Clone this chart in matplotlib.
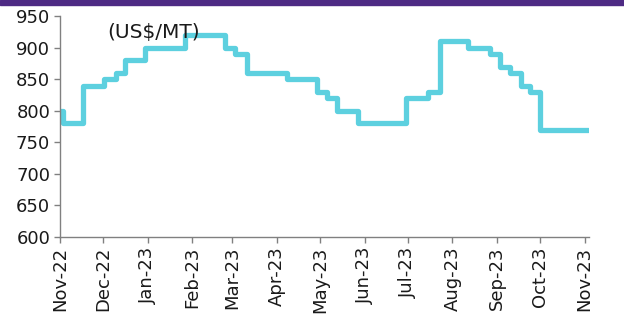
import matplotlib
matplotlib.use("Agg")
import matplotlib.pyplot as plt
import matplotlib.dates as mdates
from matplotlib.patches import Rectangle
import pandas as pd

# Price change dates and the price in effect from each date (US$/MT)
change_dates = [
    "2022-11-01", "2022-11-03", "2022-11-17", "2022-12-02", "2022-12-10",
    "2022-12-16", "2022-12-30", "2023-01-27", "2023-02-24", "2023-03-03",
    "2023-03-11", "2023-04-08", "2023-04-29", "2023-05-06", "2023-05-13",
    "2023-05-27", "2023-06-30", "2023-07-15", "2023-07-23", "2023-08-12",
    "2023-08-27", "2023-09-03", "2023-09-10", "2023-09-18", "2023-09-24",
    "2023-10-01", "2023-11-03",
]
prices = [
    800, 780, 840, 850, 860,
    880, 900, 920, 900, 890,
    860, 850, 830, 820, 800,
    780, 820, 830, 910, 900,
    890, 870, 860, 840, 830,
    770, 770,
]
y_ticks = [600, 650, 700, 750, 800, 850, 900, 950]
unit_label = "(US$/MT)"

plt.rcParams["font.family"] = ["DejaVu Sans"]

dates = pd.to_datetime(change_dates)

fig = plt.figure(figsize=(6.24, 3.22), dpi=100)
ax = fig.add_axes([0.096, 0.264, 0.848, 0.686])

ax.plot(dates, prices, drawstyle="steps-post", color="#5DD0DF",
        linewidth=3.8, solid_joinstyle="round", solid_capstyle="round")

ax.set_xlim(pd.Timestamp("2022-11-01"), pd.Timestamp("2023-11-04"))
ax.set_ylim(600, 950)
ax.set_yticks(y_ticks)

ax.xaxis.set_major_locator(mdates.MonthLocator())
ax.xaxis.set_major_formatter(mdates.DateFormatter("%b-%y"))
plt.setp(ax.get_xticklabels(), rotation=90, ha="center", va="top")

for side in ("top", "right"):
    ax.spines[side].set_visible(False)
for side in ("left", "bottom"):
    ax.spines[side].set_color("#808080")
    ax.spines[side].set_linewidth(1.0)
ax.tick_params(axis="both", colors="#808080", labelcolor="#1a1a1a",
               labelsize=13, length=4, width=1.0, pad=3)

ax.text(0.089, 0.925, unit_label, transform=ax.transAxes, fontsize=14.5,
        color="#1a1a1a", ha="left", va="center")

# Accent band along the top edge
fig.patches.append(Rectangle((0, 0.986), 1, 0.014, transform=fig.transFigure,
                             color="#4E2A84", zorder=10))

fig.savefig("out.png", dpi=100)
